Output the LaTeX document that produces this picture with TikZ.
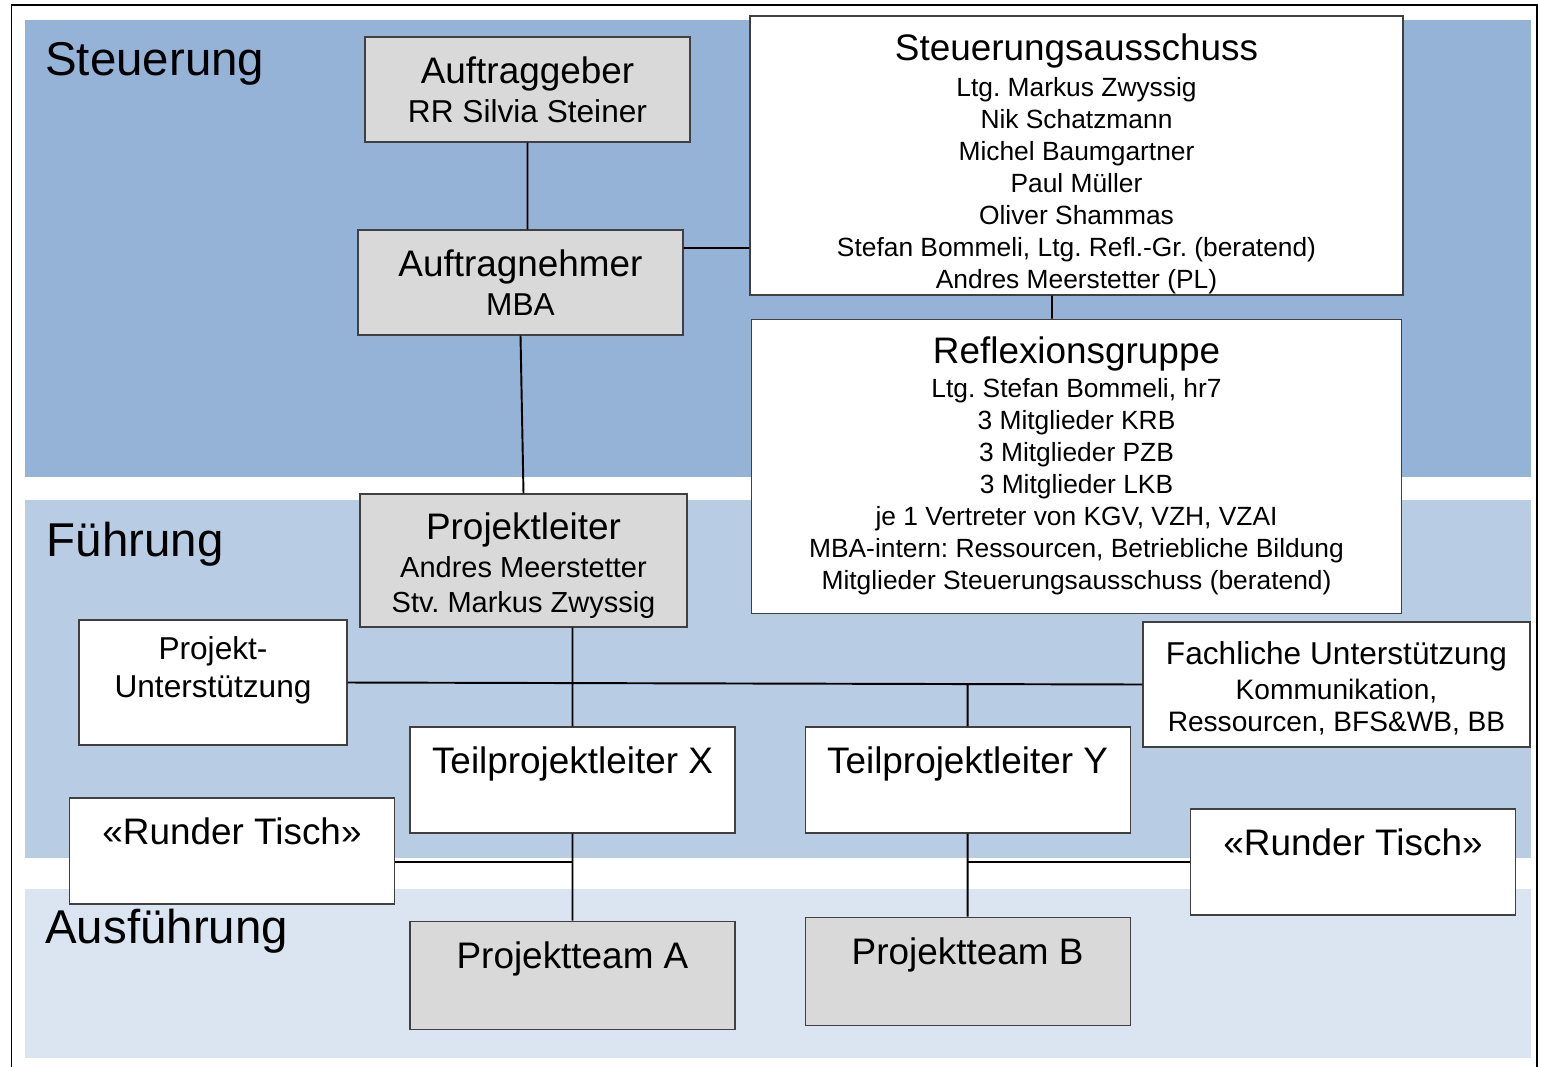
\documentclass[tikz,border=0pt]{standalone}
\usepackage{fontspec}
\setmainfont{Liberation Sans}
\usepackage{xcolor}
\usepackage{tikz}
\usetikzlibrary{positioning}
\frenchspacing
\definecolor{steuerblue}{HTML}{95B3D7}
\definecolor{fuehrblue}{HTML}{B8CCE4}
\definecolor{ausfblue}{HTML}{DBE5F1}
\definecolor{boxgray}{HTML}{D9D9D9}
\newcommand{\bandsize}{\fontsize{27}{32}\selectfont}
\newcommand{\headsize}{\fontsize{21}{25}\selectfont}
\newcommand{\subsize}{\fontsize{18}{22}\selectfont}
\newcommand{\plsize}{\fontsize{16.5}{20}\selectfont}
\newcommand{\fachsize}{\fontsize{16}{18.2}\selectfont}
\newcommand{\listsize}{\fontsize{15}{18.2}\selectfont}
\tikzset{org box/.style={rectangle,draw=black!75,line width=0.6pt,inner sep=0pt,align=center},}
\tikzset{gray node/.style={org box,fill=boxgray},}
\tikzset{white node/.style={org box,fill=white},}
\tikzset{one liner/.style={font=\headsize,text height=0.56cm,text depth=0.82cm,minimum width=6.5cm,minimum height=2.12cm},}
\tikzset{band label/.style={anchor=base west,font=\bandsize,inner sep=0pt},}
\tikzset{link/.style={line width=1.1pt},}
\begin{document}
\begin{tikzpicture}
       \useasboundingbox (0,0) rectangle (30.82,-21.32);
       \draw[line width=1.1pt] (0.23,-21.5) -- (0.23,-0.1) -- (30.74,-0.1) -- (30.74,-21.5);

       \fill[steuerblue] (0.5,-0.4) rectangle (30.62,-9.54);
       \fill[fuehrblue] (0.5,-10.0) rectangle (30.62,-17.16);
       \fill[ausfblue] (0.5,-17.78) rectangle (30.62,-21.16);
       \node[band label] (steuerung) at (0.9,-1.5) {Steuerung};
       \node[band label] (fuehrung) at (0.93,-11.13) {Führung};
       \node[band label] (ausfuehrung) at (0.9,-18.86) {Ausführung};

       \node[gray node,font=\subsize,minimum width=6.5cm,minimum height=2.1cm] (auftraggeber) at (10.55,-1.79) {{\headsize Auftraggeber}\\RR Silvia Steiner};
       \node[gray node,font=\subsize,minimum width=6.5cm,minimum height=2.1cm] (auftragnehmer) at (10.41,-5.65) {{\headsize Auftragnehmer}\\MBA};
       \node[white node,font=\listsize,minimum width=13.06cm,minimum height=5.58cm] (ausschuss) at (21.53,-3.11) {\mbox{}\\[6.8pt]{\headsize Steuerungsausschuss}\\[2.5pt]Ltg. Markus Zwyssig\\Nik Schatzmann\\Michel Baumgartner\\Paul Müller\\Oliver Shammas\\Stefan Bommeli, Ltg. Refl.-Gr. (beratend)\\Andres Meerstetter (PL)};
       \node[white node,font=\listsize,minimum width=13.0cm,minimum height=5.88cm] (reflexion) [below = 0.46cm of ausschuss] {{\headsize Reflexionsgruppe}\\[1.4pt]Ltg. Stefan Bommeli, hr7\\3 Mitglieder KRB\\3 Mitglieder PZB\\3 Mitglieder LKB\\je 1 Vertreter von KGV, VZH, VZAI\\MBA-intern: Ressourcen, Betriebliche Bildung\\Mitglieder Steuerungsausschuss (beratend)};

       \node[gray node,font=\plsize,minimum width=6.54cm,minimum height=2.66cm] (projektleiter) at (10.47,-11.21) {\mbox{}\\[1pt]{\headsize Projektleiter}\\[1.3pt]Andres Meerstetter\\Stv. Markus Zwyssig};
       \node[white node,font=\subsize,minimum width=5.36cm,minimum height=2.5cm] (projektsupport) at (4.26,-13.65) {Projekt-\\Unterstützung\\[-4.5pt]\mbox{}};
       \node[white node,font=\fachsize,minimum width=7.74cm,minimum height=2.5cm] (fachsupport) at (26.73,-13.69) {\mbox{}\\[-1.1pt]{\subsize Fachliche Unterstützung}\\[2pt]Kommunikation,\\Ressourcen, BFS\&WB, BB};

       \node[white node,one liner] (tplx) at (11.45,-15.6) {Teilprojektleiter X};
       \node[white node,one liner] (tply) [right = 1.38cm of tplx] {Teilprojektleiter Y};
       \node[white node,one liner] (tischlinks) at (4.64,-17.02) {«Runder Tisch»};
       \node[white node,one liner] (tischrechts) at (27.06,-17.24) {«Runder Tisch»};
       \node[gray node,one liner,minimum height=2.16cm] (teama) [below = 1.74cm of tplx] {Projektteam A};
       \node[gray node,one liner,minimum height=2.16cm] (teamb) [below = 1.66cm of tply] {Projektteam B};

       \draw[link]
       (auftraggeber.south) -- (auftraggeber.south |- auftragnehmer.north)
       ([yshift=0.69cm]auftragnehmer.east) -- ([yshift=0.69cm]auftragnehmer.east -| ausschuss.west)
       (auftragnehmer.south) -- (projektleiter.north)
       ([xshift=-0.49cm]ausschuss.south) -- ([xshift=-0.49cm]ausschuss.south |- reflexion.north)
       (tplx.north |- projektleiter.south) -- (tplx.north)
       (projektsupport.east) -- (fachsupport.west)
       (tply.north |- fachsupport.west) -- (tply.north)
       (tplx.south) -- (teama.north)
       ([yshift=-0.22cm]tischlinks.east) -- ([yshift=-0.22cm]tischlinks.east -| tplx.south)
       (tply.south) -- (teamb.north)
       (tischrechts.west) -- (tischrechts.west -| tply.south);
\end{tikzpicture}
\end{document}
